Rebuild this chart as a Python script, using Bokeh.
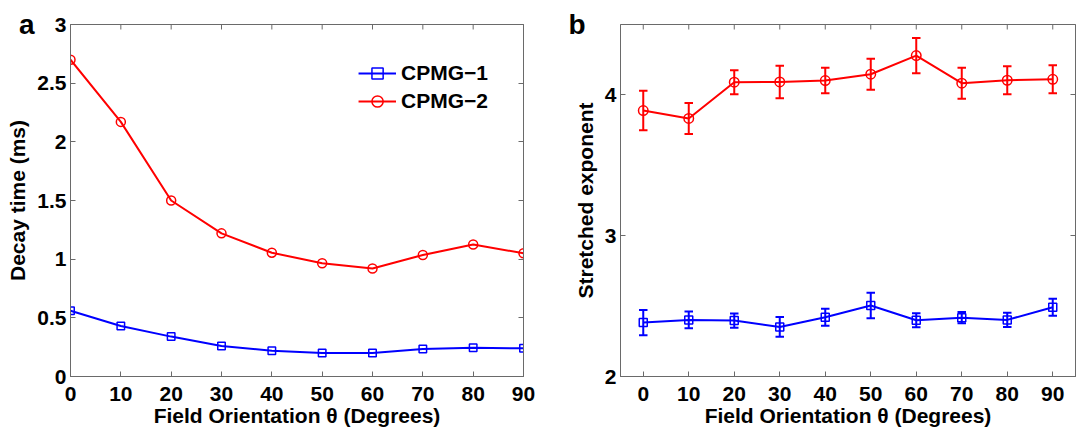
from bokeh.plotting import figure
from bokeh.layouts import row
from bokeh.models import (ColumnDataSource, Whisker, TeeHead, LinearAxis,
                          FixedTicker, Range1d, CustomLabelingPolicy)
from bokeh.embed import file_html
from bokeh.resources import INLINE

# ---------------- data ----------------
theta = [0, 10, 20, 30, 40, 50, 60, 70, 80, 90]

decay_cpmg1 = [0.56, 0.43, 0.34, 0.26, 0.22, 0.20, 0.20, 0.235, 0.245, 0.24]
decay_cpmg2 = [2.70, 2.17, 1.50, 1.22, 1.055, 0.965, 0.92, 1.035, 1.125, 1.05]

exp_cpmg1 = [2.383, 2.402, 2.397, 2.352, 2.421, 2.504, 2.400, 2.418, 2.402, 2.492]
err_cpmg1 = [0.09, 0.06, 0.05, 0.07, 0.06, 0.09, 0.05, 0.04, 0.05, 0.06]
exp_cpmg2 = [3.889, 3.833, 4.090, 4.092, 4.102, 4.147, 4.279, 4.083, 4.104, 4.111]
err_cpmg2 = [0.14, 0.11, 0.085, 0.115, 0.09, 0.11, 0.125, 0.11, 0.10, 0.10]

series_names = ["CPMG\u22121", "CPMG\u22122"]
panel_letters = ["\u00a0\u00a0a", "b"]
x_ticks = [0, 10, 20, 30, 40, 50, 60, 70, 80, 90]
y_ticks_a = [0, 0.5, 1, 1.5, 2, 2.5, 3]
y_ticks_b = [2, 3, 4]
x_label = "Field Orientation \u03b8 (Degrees)"
y_label_a = "Decay time (ms)"
y_label_b = "Stretched exponent"

# ---------------- style ----------------
FONT = "Liberation Sans"
FRAME = "#6a6a6a"
BLUE = "#0000ff"
RED = "#ff0000"
TICK_FS = "21px"
LABEL_FS = "21px"

HIDE_LABELS = """
const all = Array.from(indices.ones ? indices.ones() : indices);
for (const i of all) {
  if (indices.unset) { indices.unset(i); } else { indices.set(i, false); }
}
return indices;
"""


def style_axis(ax, ticks, label=None, standoff=5, label_standoff=0, hidden=False,
               line_height=None):
    ax.ticker = FixedTicker(ticks=ticks)
    ax.major_tick_in = 5
    ax.major_tick_out = 0
    ax.minor_tick_line_color = None
    ax.major_tick_line_color = FRAME
    ax.axis_line_color = FRAME
    ax.major_label_text_font = FONT
    ax.major_label_text_font_style = "bold"
    ax.major_label_text_color = "black"
    if hidden:
        ax.major_label_text_font_size = "0px"
        ax.major_label_policy = CustomLabelingPolicy(code=HIDE_LABELS)
        ax.major_label_standoff = 0
    else:
        ax.major_label_text_font_size = TICK_FS
        ax.major_label_standoff = standoff
    if line_height is not None:
        ax.major_label_text_line_height = line_height
        ax.axis_label_text_line_height = line_height
    if label is not None:
        ax.axis_label = label
        ax.axis_label_text_font = FONT
        ax.axis_label_text_font_style = "bold"
        ax.axis_label_text_font_size = LABEL_FS
        ax.axis_label_text_color = "black"
        ax.axis_label_standoff = label_standoff


def make_fig(width, xr, yr, border_right):
    p = figure(width=width, height=432, x_range=xr, y_range=yr,
               output_backend="svg", toolbar_location=None,
               min_border_left=0, min_border_right=border_right,
               min_border_top=24, min_border_bottom=56)
    p.title.visible = False
    p.grid.visible = False
    p.outline_line_color = FRAME
    p.outline_line_width = 1
    p.background_fill_color = "white"
    p.border_fill_color = "white"
    return p


def add_letter(p, letter, at, standoff):
    ax = LinearAxis(ticker=FixedTicker(ticks=[at]), major_label_overrides={at: letter})
    ax.major_tick_in = 0
    ax.major_tick_out = 0
    ax.major_tick_line_color = None
    ax.minor_tick_line_color = None
    ax.axis_line_color = None
    ax.major_label_standoff = standoff
    ax.major_label_text_font = FONT
    ax.major_label_text_font_style = "bold"
    ax.major_label_text_font_size = "28px"
    ax.major_label_text_color = "black"
    p.add_layout(ax, "left")


def add_box_ticks(p, xr, yr, xt, yt, frame_h):
    # inward ticks on the top edge, derived from the tick list and range
    tick_len = 5.0 * (yr.end - yr.start) / frame_h
    p.segment(x0=xt, x1=xt, y0=[yr.end] * len(xt), y1=[yr.end - tick_len] * len(xt),
              line_color=FRAME, line_width=1)
    right = LinearAxis()
    style_axis(right, yt, hidden=True)
    p.add_layout(right, "right")


# ---------------- panel a ----------------
xr1, yr1 = Range1d(0, 90), Range1d(0, 3)
p1 = make_fig(565, xr1, yr1, 42)
style_axis(p1.xaxis[0], x_ticks, x_label, standoff=10, label_standoff=0, line_height=1.0)
style_axis(p1.yaxis[0], y_ticks_a, y_label_a, standoff=4, label_standoff=5)
add_letter(p1, panel_letters[0], 3, -31)
add_box_ticks(p1, xr1, yr1, x_ticks, y_ticks_a, 352)

src_a = ColumnDataSource(dict(x=theta, c1=decay_cpmg1, c2=decay_cpmg2))
p1.line("x", "c1", source=src_a, line_color=BLUE, line_width=2, legend_label=series_names[0])
p1.scatter("x", "c1", source=src_a, marker="square", size=7.5, fill_color=None,
           line_color=BLUE, line_width=1.5, legend_label=series_names[0])
p1.line("x", "c2", source=src_a, line_color=RED, line_width=2, legend_label=series_names[1])
p1.scatter("x", "c2", source=src_a, marker="circle", size=9, fill_color=None,
           line_color=RED, line_width=1.5, legend_label=series_names[1])

lg = p1.legend[0]
lg.location = "top_right"
lg.margin = 35
lg.padding = 0
lg.spacing = 0
lg.glyph_width = 38
lg.glyph_height = 28
lg.label_height = 28
lg.label_standoff = 5
lg.border_line_color = None
lg.background_fill_alpha = 0
lg.label_text_font = FONT
lg.label_text_font_style = "bold"
lg.label_text_font_size = "21px"
lg.label_text_color = "black"

# ---------------- panel b ----------------
xr2, yr2 = Range1d(-5, 95), Range1d(2, 4.5)
p2 = make_fig(511, xr2, yr2, 1)
style_axis(p2.xaxis[0], x_ticks, x_label, standoff=10, label_standoff=0, line_height=1.0)
style_axis(p2.yaxis[0], y_ticks_b, y_label_b, standoff=4, label_standoff=5)
add_letter(p2, panel_letters[1], 4.5, -15)
add_box_ticks(p2, xr2, yr2, x_ticks, y_ticks_b, 352)

lo1 = [v - e for v, e in zip(exp_cpmg1, err_cpmg1)]
hi1 = [v + e for v, e in zip(exp_cpmg1, err_cpmg1)]
lo2 = [v - e for v, e in zip(exp_cpmg2, err_cpmg2)]
hi2 = [v + e for v, e in zip(exp_cpmg2, err_cpmg2)]
src_b = ColumnDataSource(dict(x=theta, c1=exp_cpmg1, c2=exp_cpmg2,
                              lo1=lo1, hi1=hi1, lo2=lo2, hi2=hi2))

for lo, hi, color in (("lo1", "hi1", BLUE), ("lo2", "hi2", RED)):
    w = Whisker(source=src_b, base="x", lower=lo, upper=hi, line_color=color, line_width=2,
                upper_head=TeeHead(size=8.5, line_color=color, line_width=2),
                lower_head=TeeHead(size=8.5, line_color=color, line_width=2))
    p2.add_layout(w)

p2.line("x", "c1", source=src_b, line_color=BLUE, line_width=2)
p2.scatter("x", "c1", source=src_b, marker="square", size=8, fill_color=None,
           line_color=BLUE, line_width=1.5)
p2.line("x", "c2", source=src_b, line_color=RED, line_width=2)
p2.scatter("x", "c2", source=src_b, marker="circle", size=9.5, fill_color=None,
           line_color=RED, line_width=1.5)

layout = row(p1, p2)
open("out.html", "w").write(file_html(layout, INLINE))
